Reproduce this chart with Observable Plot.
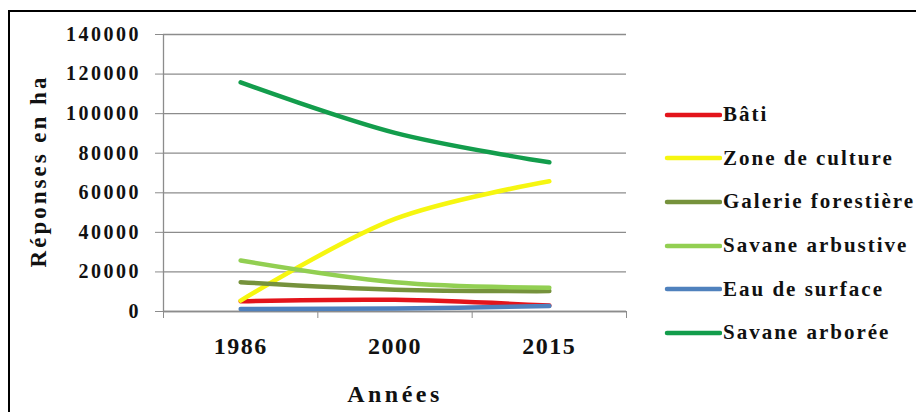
<!DOCTYPE html>
<html><head><meta charset="utf-8">
<script src="https://cdn.jsdelivr.net/npm/d3@7"></script>
<script src="https://cdn.jsdelivr.net/npm/@observablehq/plot@0.6"></script>
<style>
html,body{margin:0;padding:0;background:#fff;overflow:hidden;width:916px;height:412px;}
#frame{position:absolute;left:8px;top:10px;width:1000px;height:1000px;border:2px solid #000;}
#chart{position:absolute;left:0;top:0;}
#legend{position:absolute;left:664px;top:93px;font-family:"Liberation Serif","Times New Roman",serif;font-weight:bold;font-size:21px;letter-spacing:2px;color:#111;}
.row{height:43.6px;display:flex;align-items:center;}
.row svg{margin-right:1px;}
</style></head>
<body>
<div id="frame"></div>
<div id="chart"></div>
<div id="legend"></div>
<script>
const years = ["1986", "2000", "2015"];
const series = ["Bâti", "Zone de culture", "Galerie forestière", "Savane arbustive", "Eau de surface", "Savane arborée"];
const colors = ["#e3141b", "#f6f610", "#76923c", "#92cf52", "#4f81bd", "#139d4c"];
const bati = [5200, 5900, 3000];
const zoneCulture = [5500, 46800, 65800];
const galerie = [14800, 11000, 10300];
const savaneArbustive = [25800, 14800, 12000];
const eauSurface = [1300, 1500, 2800];
const savaneArboree = [115800, 90300, 75400];
const yTicks = [0, 20000, 40000, 60000, 80000, 100000, 120000, 140000];

const valuesBySeries = [bati, zoneCulture, galerie, savaneArbustive, eauSurface, savaneArboree];
const data = [];
series.forEach((s, i) => years.forEach((yr, j) => data.push({series: s, idx: j, year: yr, value: valuesBySeries[i][j]})));
const yearIdx = years.map((_, i) => i);
const boundaries = years.map((_, i) => i - 0.5).concat([years.length - 0.5]);

const font = "'Liberation Serif', 'Times New Roman', serif";
const chart = Plot.plot({
  width: 640,
  height: 412,
  marginLeft: 163,
  marginRight: 14,
  marginTop: 34,
  marginBottom: 101,
  style: {fontFamily: font, background: "transparent", overflow: "visible"},
  x: {domain: [-0.5, years.length - 0.5]},
  y: {domain: [0, 140000]},
  color: {domain: series, range: colors},
  marks: [
    Plot.gridY(yTicks, {stroke: "#8c8c8c", strokeOpacity: 1, strokeWidth: 1.3}),
    Plot.axisY(yTicks, {tickSize: 8, stroke: "#8c8c8c", tickPadding: 14.5, fontSize: 20, fontWeight: "bold", fill: "#111",
      tickFormat: d => String(d), label: null}),
    Plot.ruleX([-0.5], {stroke: "#8c8c8c", strokeWidth: 1.3}),
    Plot.ruleY([0], {stroke: "#8c8c8c", strokeWidth: 1.3}),
    Plot.axisX(boundaries, {tickSize: 7, stroke: "#8c8c8c", tickFormat: () => "", label: null}),
    Plot.axisX(yearIdx, {tickSize: 0, tickPadding: 25, fontSize: 24, fontWeight: "bold", fill: "#111",
      tickFormat: i => years[i], label: null}),
    Plot.line(data, {x: "idx", y: "value", z: "series", stroke: "series", strokeWidth: 4.5, curve: "catmull-rom", strokeLinecap: "round"})
  ]
});
chart.querySelectorAll("g[aria-label='y-axis tick label'] text").forEach(t => t.setAttribute("letter-spacing", "2.5"));
chart.querySelectorAll("g[aria-label='x-axis tick label'] text").forEach(t => t.setAttribute("letter-spacing", "1.5"));
const ns = "http://www.w3.org/2000/svg";
function addText(txt, x, y, size, ls, rot) {
  const t = document.createElementNS(ns, "text");
  t.textContent = txt;
  t.setAttribute("x", x); t.setAttribute("y", y);
  t.setAttribute("text-anchor", "middle");
  t.setAttribute("font-size", size);
  t.setAttribute("font-weight", "bold");
  t.setAttribute("font-family", font);
  t.setAttribute("fill", "#111");
  t.setAttribute("letter-spacing", ls);
  if (rot) t.setAttribute("transform", `rotate(-90 ${x} ${y})`);
  chart.appendChild(t);
}
addText("Réponses en ha", 46, 171, 23, 3, true);
addText("Années", 395, 402, 24, 3.5, false);
document.getElementById("chart").appendChild(chart);

const legend = document.getElementById("legend");
series.forEach((s, i) => {
  const row = document.createElement("div");
  row.className = "row";
  row.innerHTML = `<svg width="58" height="10"><line x1="3" y1="5" x2="56" y2="5" stroke="${colors[i]}" stroke-width="4.5" stroke-linecap="round"/></svg><span>${s}</span>`;
  legend.appendChild(row);
});
</script>
</body></html>
